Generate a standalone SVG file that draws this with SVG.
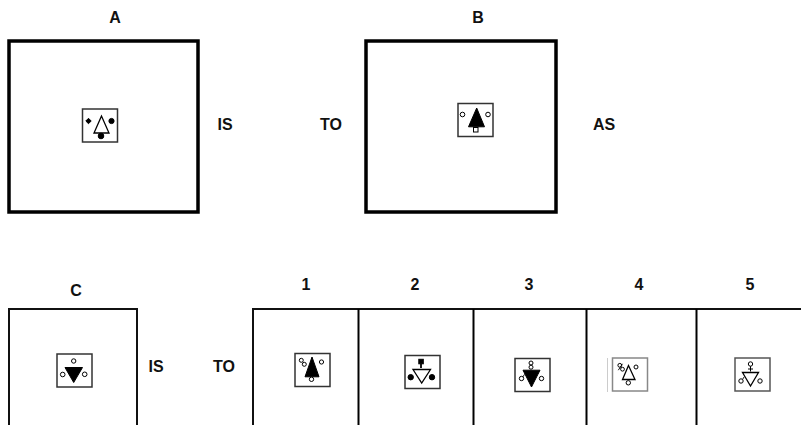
<svg xmlns="http://www.w3.org/2000/svg" width="801" height="425" viewBox="0 0 801 425">
<style>
.lbl{font-family:"Liberation Sans",Arial,sans-serif;font-weight:bold;font-size:16px;fill:#111;text-anchor:middle}
.big{fill:#fff;stroke:#000;stroke-width:3.5}
.mid{fill:#fff;stroke:#111;stroke-width:2}
.frm{fill:#fff;stroke:#333;stroke-width:1.5}
.frm2{fill:#fff;stroke:#888;stroke-width:1.5}
.wt{fill:#fff;stroke:#000;stroke-width:1.3;stroke-linejoin:miter}
.bk{fill:#000;stroke:#000;stroke-width:1}
.oc{fill:#fff;stroke:#000;stroke-width:1}
.ln{stroke:#000;stroke-width:1;fill:none}
</style>
<rect width="801" height="425" fill="#fff"/>

<g id="panel-A">
<text class="lbl" x="115" y="23">A</text>
<rect class="big" x="9" y="41" width="189" height="171"/>
<g transform="translate(82.5,109)">
<rect class="frm" x="0" y="0" width="35" height="33"/>
<polygon class="wt" points="19,7 11.5,24 26.5,24"/>
<polygon class="bk" points="6,9.3 8.7,12 6,14.7 3.3,12"/>
<circle class="bk" cx="29" cy="12" r="2.6"/>
<circle class="bk" cx="18.5" cy="27" r="2.8"/>
</g>
</g>

<text id="t-is1" class="lbl" x="225" y="130">IS</text>
<text id="t-to1" class="lbl" x="331" y="130">TO</text>

<g id="panel-B">
<text class="lbl" x="478" y="23">B</text>
<rect class="big" x="366" y="41" width="190" height="171"/>
<g transform="translate(458,103.5)">
<rect class="frm" x="0" y="0" width="35" height="33"/>
<polygon class="bk" points="18.7,4.5 10.5,23.3 26.5,23.3"/>
<circle class="oc" cx="4.5" cy="11" r="2.3"/>
<circle class="oc" cx="30" cy="11" r="2.3"/>
<rect class="oc" x="15.5" y="24" width="4.5" height="4.5"/>
</g>
</g>

<text id="t-as" class="lbl" x="604" y="130">AS</text>

<g id="panel-C">
<text class="lbl" x="76" y="296">C</text>
<rect class="mid" x="9" y="309" width="128" height="130"/>
<g transform="translate(57,354)">
<rect class="frm" x="0" y="0" width="35" height="33"/>
<circle class="oc" cx="16.7" cy="7" r="2.2"/>
<polygon class="bk" points="8,13.5 25.5,13.5 16.7,28.5"/>
<circle class="oc" cx="5.7" cy="20.5" r="2.3"/>
<circle class="oc" cx="27.7" cy="20.3" r="2.3"/>
</g>
</g>

<text id="t-is2" class="lbl" x="156" y="372">IS</text>
<text id="t-to2" class="lbl" x="224" y="372">TO</text>

<g id="options-frame">
<rect class="mid" x="253" y="309" width="560" height="130"/>
</g>
<g id="connectors">
<line class="ln" x1="358.5" y1="309" x2="358.5" y2="425" style="stroke-width:2"/>
<line class="ln" x1="473.5" y1="309" x2="473.5" y2="425" style="stroke-width:2"/>
<line class="ln" x1="586.5" y1="309" x2="586.5" y2="425" style="stroke-width:2"/>
<line class="ln" x1="696.5" y1="309" x2="696.5" y2="425" style="stroke-width:2"/>
</g>

<g id="opt-1">
<text class="lbl" x="306" y="290">1</text>
<g transform="translate(295,353.5)">
<rect class="frm" x="0" y="0" width="35" height="33"/>
<polygon class="bk" points="17,3.5 10,23.3 24,23.3"/>
<circle class="oc" cx="6.3" cy="6.8" r="2"/>
<circle class="oc" cx="9.3" cy="10.8" r="2"/>
<circle class="oc" cx="26.5" cy="8.5" r="2.1"/>
<circle class="oc" cx="16.5" cy="25.8" r="2.2"/>
</g>
</g>

<g id="opt-2">
<text class="lbl" x="415" y="290">2</text>
<g transform="translate(405,355.5)">
<rect class="frm" x="0" y="0" width="35" height="33"/>
<rect class="bk" x="13.8" y="3.8" width="4.5" height="4.5"/>
<line class="ln" x1="16" y1="8" x2="16" y2="12.5" style="stroke-width:1.8"/>
<polygon class="wt" points="8,14 25.5,14 16.7,27.5"/>
<circle class="bk" cx="5.7" cy="21.7" r="2.7"/>
<circle class="bk" cx="27" cy="21.7" r="2.7"/>
</g>
</g>

<g id="opt-3">
<text class="lbl" x="529" y="290">3</text>
<g transform="translate(515,358.5)">
<rect class="frm" x="0" y="0" width="35" height="33"/>
<circle class="oc" cx="16" cy="4.5" r="2"/>
<circle class="oc" cx="16" cy="8.7" r="2"/>
<polygon class="bk" points="8,11.7 25,11.7 16.5,28.5"/>
<circle class="oc" cx="6.5" cy="20" r="2.2"/>
<line class="ln" x1="8" y1="18.3" x2="9.5" y2="15.8" style="stroke-width:0.9"/>
<circle class="oc" cx="26.5" cy="20" r="2.2"/>
</g>
</g>

<g id="opt-4">
<text class="lbl" x="639" y="290">4</text>
<line x1="607.5" y1="358" x2="607.5" y2="392" stroke="#ccc" stroke-width="1"/>
<g transform="translate(612.5,358)">
<rect class="frm2" x="0" y="0" width="35" height="33"/>
<polygon class="wt" points="16,7.5 10,21.5 22.5,21.5"/>
<circle class="oc" cx="7.3" cy="7.3" r="1.9"/>
<circle class="oc" cx="10" cy="11.2" r="1.9"/>
<line class="ln" x1="5.8" y1="12.2" x2="10" y2="5.8" style="stroke-width:0.9"/>
<circle class="oc" cx="23.5" cy="9" r="2"/>
<circle class="oc" cx="15.8" cy="24.8" r="2.2"/>
</g>
</g>

<g id="opt-5">
<text class="lbl" x="750" y="290">5</text>
<g transform="translate(735,358)">
<rect class="frm2" x="0" y="0" width="35" height="33" style="stroke:#555"/>
<circle class="oc" cx="15.5" cy="6" r="2.2"/>
<line class="ln" x1="15.5" y1="8.2" x2="15.5" y2="13.5" style="stroke-width:1"/>
<line class="ln" x1="13" y1="11" x2="18" y2="11" style="stroke-width:1"/>
<polygon class="wt" points="7.5,14.5 23.5,14.5 15.5,28"/>
<circle class="oc" cx="6" cy="23" r="2.2"/>
<line class="ln" x1="7.6" y1="21.3" x2="9.2" y2="18.8" style="stroke-width:0.9"/>
<circle class="oc" cx="25" cy="23" r="2.2"/>
</g>
</g>
</svg>
